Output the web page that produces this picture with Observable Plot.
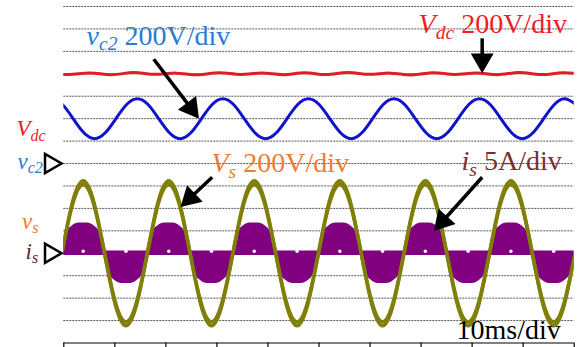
<!DOCTYPE html>
<html><head><meta charset="utf-8">
<script src="https://cdn.jsdelivr.net/npm/d3@7"></script>
<script src="https://cdn.jsdelivr.net/npm/@observablehq/plot@0.6"></script>
<style>body{margin:0;background:#fff}svg{display:block}</style>
</head><body><div id="chart"></div>
<script>
// ---------------- data ----------------
const timeTicksMs = [0,10,20,30,40,50,60,70,80,90,100];
const gridDivisions = [1,2,3,4,5,6,7,8,9,10,11,12,13,14,15];

const channelNames = ["Vdc","vc2","vs","is"];
const channelGroundDiv = [8,8,4,4];
const channelUnitsPerDiv = [200,200,200,5];

// DC-link voltage (V) with small 120 Hz ripple
const vdcTime = [-3.2,1.0,5.2,9.4,13.6,17.8,22.0,26.2,30.4,34.6,38.8,43.0,47.2,51.4,55.6,59.8,64.0,68.2,72.4,76.6,80.8,85.0,89.2,93.4,97.6,101.8];
const vdcValue = [809,793,808,792,811,795,806,791,810,794,807,792,809,793,811,795,806,790,810,794,808,792,812,793,809,794];

// capacitor voltage vc2 (V)
const vc2Time = [-2.36,-0.27,1.83,3.93,6.02,8.12,10.21,12.31,14.40,16.50,18.59,20.69,22.78,24.88,26.97,29.07,31.16,33.26,35.35,37.45,39.54,41.64,43.73,45.83,47.92,50.02,52.11,54.21,56.30,58.40,60.49,62.59,64.68,66.78,68.87,70.97,73.06,75.16,77.25,79.35,81.44,83.54,85.63,87.73,89.82,91.92,94.01,96.11,98.20,100.30];
const vc2Value = [578,526,400,274,222,274,400,526, 578,526,400,274,222,274,400,526, 578,526,400,274,222,274,400,526, 578,526,400,274,222,274,400,526, 578,526,400,274,222,274,400,526, 578,526,400,274,222,274,400,526, 578,526];

// source voltage vs (V): outer and inner edge of the thick trace
const vsTime = [-0.39,1.70,3.80,5.89,7.99,10.08,12.18,14.27,16.37,18.46,20.56,22.65,24.75,26.84,28.94,31.03,33.13,35.22,37.32,39.41,41.51,43.60,45.70,47.79,49.89,51.98,54.08,56.17,58.27,60.36,62.46,64.55,66.65,68.74,70.84,72.93,75.03,77.12,79.22,81.31,83.41,85.50,87.60,89.69,91.79,93.88,95.98,98.07,100.17];
const vsOuter = [0,456,645,456,0,-456,-645,-456, 0,456,645,456,0,-456,-645,-456, 0,456,645,456,0,-456,-645,-456, 0,456,645,456,0,-456,-645,-456, 0,456,645,456,0,-456,-645,-456, 0,456,645,456,0,-456,-645,-456, 0];
const vsInner = [0,433,612,433,0,-433,-612,-433, 0,433,612,433,0,-433,-612,-433, 0,433,612,433,0,-433,-612,-433, 0,433,612,433,0,-433,-612,-433, 0,433,612,433,0,-433,-612,-433, 0,433,612,433,0,-433,-612,-433, 0];

// source current is (A), envelope of the switching waveform
const isTime = [
  -0.39,0.03,0.70,1.71,2.96,4.64,5.90,6.90,7.57,
  7.99,8.41,9.08,10.09,11.34,13.02,14.28,15.28,15.95,
  16.37,16.79,17.46,18.47,19.72,21.40,22.66,23.66,24.33,
  24.75,25.17,25.84,26.85,28.10,29.78,31.04,32.04,32.71,
  33.13,33.55,34.22,35.23,36.48,38.16,39.42,40.42,41.09,
  41.51,41.93,42.60,43.61,44.86,46.54,47.80,48.80,49.47,
  49.89,50.31,50.98,51.99,53.24,54.92,56.18,57.18,57.85,
  58.27,58.69,59.36,60.37,61.62,63.30,64.56,65.56,66.23,
  66.65,67.07,67.74,68.75,70.00,71.68,72.94,73.94,74.61,
  75.03,75.45,76.12,77.13,78.38,80.06,81.32,82.32,82.99,
  83.41,83.83,84.50,85.51,86.76,88.44,89.70,90.70,91.37,
  91.79,92.21,92.88,93.89,95.14,96.82,98.08,99.08,99.75,
  100.17];
const isValue = [
  0,2.86,4.90,6.12,6.73,6.73,6.12,4.90,2.86,
  0,-2.86,-4.90,-6.12,-6.73,-6.73,-6.12,-4.90,-2.86,
  0,2.86,4.90,6.12,6.73,6.73,6.12,4.90,2.86,
  0,-2.86,-4.90,-6.12,-6.73,-6.73,-6.12,-4.90,-2.86,
  0,2.86,4.90,6.12,6.73,6.73,6.12,4.90,2.86,
  0,-2.86,-4.90,-6.12,-6.73,-6.73,-6.12,-4.90,-2.86,
  0,2.86,4.90,6.12,6.73,6.73,6.12,4.90,2.86,
  0,-2.86,-4.90,-6.12,-6.73,-6.73,-6.12,-4.90,-2.86,
  0,2.86,4.90,6.12,6.73,6.73,6.12,4.90,2.86,
  0,-2.86,-4.90,-6.12,-6.73,-6.73,-6.12,-4.90,-2.86,
  0,2.86,4.90,6.12,6.73,6.73,6.12,4.90,2.86,
  0,-2.86,-4.90,-6.12,-6.73,-6.73,-6.12,-4.90,-2.86,
  0];
const isRippleBand = 0.5;
const isNotchTime = [3.80,12.18,20.56,28.94,37.32,45.70,54.08,62.46,70.84,79.22,87.60,95.98];
const isNotchValue = [0.45,0.45,0.45,0.45,0.45,0.45,0.45,0.45,0.45,0.45,0.45,0.45];

// text labels
const labelText = ["vc2 200V/div","Vdc 200V/div","Vs 200V/div","is 5A/div","10ms/div","Vdc","vc2","vs","is"];
const labelSegments = [
  [["v",1,0],["c2",1,1],[" 200V/div",0,0]],
  [["V",1,0],["dc",1,1],[" 200V/div",0,0]],
  [["V",1,0],["s",1,1],[" 200V/div",0,0]],
  [["i",1,0],["s",1,1],[" 5A/div",0,0]],
  [["10ms/div",0,0]],
  [["V",1,0],["dc",1,1]],
  [["v",1,0],["c2",1,1]],
  [["v",1,0],["s",1,1]],
  [["i",1,0],["s",1,1]]
];

// ---------------- layout / style ----------------
const W = 578, H = 347, ML = 63.3, MR = 4.3, MT = 6, MB = 4.5;
const kx = (W - ML - MR) / 100, ky = (H - MT - MB) / 15;
const labelX = [4.45, 69.5, 28.94, 77.92, 76.94, -9.27, -9.07, -8.19, -7.50];
const labelY = [13.29, 13.82, 7.62, 7.69, 0.20, 9.21, 7.77, 5.09, 3.75];
const labelSize = [28, 28, 28, 28, 28, 23, 23, 23, 23];
const labelColor = ["#2a7bd4","#ee1c25","#ed7d31","#7a2f30","#000000","#ee1c25","#2a7bd4","#ed7d31","#6b2a2a"];
const arrowX1 = [17.63, 81.97, 29.07, 81.97], arrowY1 = [12.65, 13.58, 7.39, 7.39];
const arrowX2 = [26.49, 81.97, 22.86, 72.49], arrowY2 = [10.00, 12.02, 6.06, 4.99];
const headR = 8.5;
const markerX = -2.6;

// ---------------- build ----------------
const toDiv = (ch, v) => channelGroundDiv[ch] + v / channelUnitsPerDiv[ch];
const vdcRows = vdcTime.map((t, i) => ({t, y: toDiv(0, vdcValue[i])}));
const vc2Rows = vc2Time.map((t, i) => ({t, y: toDiv(1, vc2Value[i])}));
const vsOuterRows = vsTime.map((t, i) => ({t, y: toDiv(2, vsOuter[i])}));
const vsInnerRows = vsTime.map((t, i) => ({t, y: toDiv(2, vsInner[i])}));
const isRows = isTime.map((t, i) => ({
  t,
  lo: toDiv(3, Math.min(isValue[i], -isRippleBand)),
  hi: toDiv(3, Math.max(isValue[i], isRippleBand))
}));
const notchRows = isNotchTime.map((t, i) => ({t, y: toDiv(3, isNotchValue[i])}));
const markerRows = [channelGroundDiv[1], channelGroundDiv[3]].map(y => ({x: markerX, y}));
const labelRows = labelText.map((text, i) => ({text, x: labelX[i], y: labelY[i], size: labelSize[i], color: labelColor[i]}));
const arrowRows = arrowX1.map((x1, i) => {
  const x2 = arrowX2[i], y1 = arrowY1[i], y2 = arrowY2[i];
  const dx = (x2 - x1) * kx, dy = -(y2 - y1) * ky;
  const L = Math.hypot(dx, dy), ux = dx / L, uy = dy / L;
  const back = 2 * 0.7776 * headR;
  const cx = x2 - ux * back / kx, cy = y2 + uy * back / ky;
  return {x1, y1, cx, cy, rot: Math.atan2(ux, -uy) * 180 / Math.PI};
});

const serif = "'Liberation Serif','Times New Roman',serif";
const plot = Plot.plot({
  width: W, height: H,
  marginLeft: ML, marginRight: MR, marginTop: MT, marginBottom: MB,
  x: {domain: [0, 100], axis: null},
  y: {domain: [0, 15], axis: null},
  color: {type: "identity"},
  style: {background: "white", overflow: "visible", fontFamily: serif},
  marks: [
    Plot.ruleY(gridDivisions, {x1: 0, x2: 100, stroke: "#555", strokeWidth: 1, strokeDasharray: "2,1"}),
    Plot.ruleY([0], {x1: 0, x2: 100, stroke: "#000", strokeWidth: 1.2}),
    Plot.ruleX(timeTicksMs, {y1: 0, y2: -0.3, stroke: "#000", strokeWidth: 1.2}),
    Plot.areaY(isRows, {x: "t", y1: "lo", y2: "hi", fill: "#800080", curve: "monotone-x", clip: true}),
    Plot.dot(notchRows, {x: "t", y: "y", r: 1.7, fill: "white"}),
    Plot.line(vdcRows, {x: "t", y: "y", stroke: "#e11d24", strokeWidth: 3, curve: "natural", clip: true}),
    Plot.line(vc2Rows, {x: "t", y: "y", stroke: "#1212cc", strokeWidth: 3, curve: "natural", clip: true}),
    Plot.line(vsOuterRows, {x: "t", y: "y", stroke: "#7f7f0a", strokeWidth: 3.6, curve: "natural", clip: true}),
    Plot.line(vsInnerRows, {x: "t", y: "y", stroke: "#7f7f0a", strokeWidth: 3.6, curve: "natural", clip: true}),
    Plot.link(arrowRows, {x1: "x1", y1: "y1", x2: "cx", y2: "cy", stroke: "#000", strokeWidth: 3.5}),
    Plot.dot(arrowRows, {x: "cx", y: "cy", symbol: "triangle", r: headR, fill: "#000", stroke: "none", rotate: "rot"}),
    Plot.dot(markerRows, {x: "x", y: "y", symbol: "triangle", r: 7.1, rotate: 90, fill: "white", stroke: "#000", strokeWidth: 2.5}),
    Plot.text(labelRows, {x: "x", y: "y", text: "text", fill: "color", fontSize: "size", textAnchor: "start", lineAnchor: "bottom", fontFamily: serif})
  ]
});
document.getElementById("chart").appendChild(plot);

// rich text: italic symbols with subscripts
const NS = "http://www.w3.org/2000/svg";
plot.querySelectorAll("text").forEach(t => {
  const idx = labelText.indexOf(t.textContent);
  if (idx < 0) return;
  const fs = labelSize[idx];
  t.textContent = "";
  let inSub = false;
  for (const [s, it, sub] of labelSegments[idx]) {
    const ts = document.createElementNS(NS, "tspan");
    ts.textContent = s;
    ts.setAttribute("font-style", it ? "italic" : "normal");
    if (sub) {
      ts.setAttribute("font-size", (fs * 0.7) + "px");
      if (!inSub) ts.setAttribute("dy", (fs * 0.2) + "px");
      inSub = true;
    } else {
      ts.setAttribute("font-size", fs + "px");
      if (inSub) ts.setAttribute("dy", (-fs * 0.2) + "px");
      inSub = false;
    }
    t.appendChild(ts);
  }
});
</script></body></html>
